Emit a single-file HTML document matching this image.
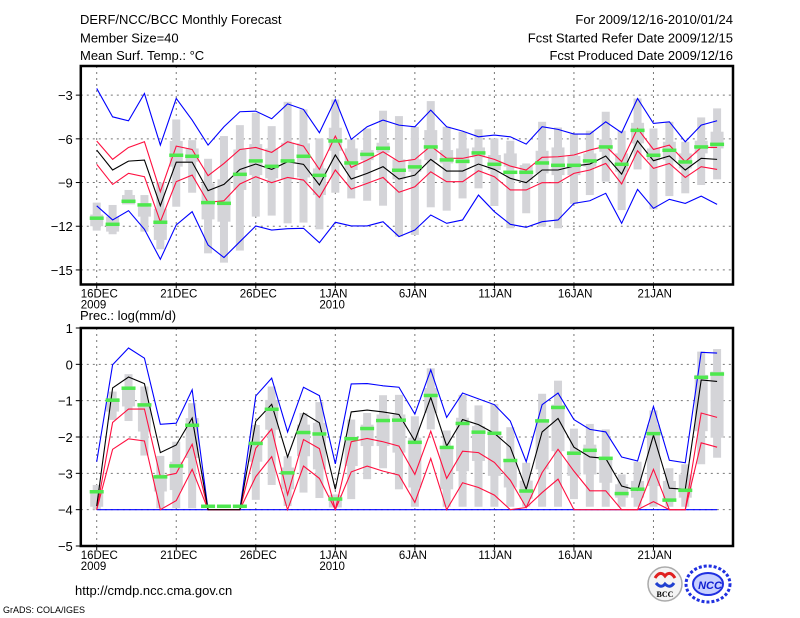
<!DOCTYPE html>
<html><head><meta charset="utf-8"><style>
html,body{margin:0;padding:0;background:#fff;width:800px;height:618px;overflow:hidden}
svg{display:block}
text{font-family:"Liberation Sans",sans-serif;fill:#000}
</style></head><body>
<svg id="c" width="800" height="618" viewBox="0 0 800 618" xmlns="http://www.w3.org/2000/svg">
<text x="80" y="24" font-size="13">DERF/NCC/BCC Monthly Forecast</text>
<text x="80" y="42.5" font-size="13">Member Size=40</text>
<text x="80" y="60" font-size="13">Mean Surf. Temp.: °C</text>
<text x="733" y="24" font-size="13" text-anchor="end">For 2009/12/16-2010/01/24</text>
<text x="733" y="42.5" font-size="13" text-anchor="end">Fcst Started Refer Date 2009/12/15</text>
<text x="733" y="60" font-size="13" text-anchor="end">Fcst Produced Date 2009/12/16</text>
<text x="80" y="320" font-size="13">Prec.: log(mm/d)</text>
<text x="75" y="595" font-size="13">http://cmdp.ncc.cma.gov.cn</text>
<text x="3" y="613" font-size="9">GrADS: COLA/IGES</text>
<g>
<circle cx="665" cy="584" r="17" fill="#f4f4f4" stroke="#aaa" stroke-width="1.5"/>
<path d="M655 578 q5 -8 10 -2 q5 -6 10 2" stroke="#e02020" stroke-width="3" fill="none"/>
<path d="M656 583 q5 6 9 1 q5 5 9 -1" stroke="#2040d0" stroke-width="3" fill="none"/>
<text x="665" y="597" font-size="8" font-weight="bold" text-anchor="middle" style="font-family:'Liberation Serif',serif">BCC</text>
</g>
<g>
<ellipse cx="708" cy="584" rx="22" ry="18" fill="none" stroke="#2030e0" stroke-width="3" stroke-dasharray="3 2"/>
<ellipse cx="708" cy="584" rx="15" ry="11" fill="#c8d0ff" stroke="#2030e0" stroke-width="2"/>
<text x="710" y="589" font-size="11" font-style="italic" font-weight="bold" text-anchor="middle" fill="#1020d0" style="fill:#1020d0">NCC</text>
</g>
</svg>
<script>
const xTickLabels = ["16DEC","21DEC","26DEC","1JAN","6JAN","11JAN","16JAN","21JAN"];
const xTickSub = ["2009","","","2010","","","",""];
const topYTicks = [-3,-6,-9,-12,-15];
const botYTicks = [1,0,-1,-2,-3,-4,-5];
const tBlueHi = [-2.54,-4.49,-4.76,-2.89,-6.43,-3.23,-4.71,-6.43,-5.17,-4.14,-4.1,-4.62,-3.6,-3.98,-5.58,-3.3,-6.04,-5.17,-4.71,-5.06,-5.17,-4.03,-5.17,-5.47,-5.86,-5.74,-5.86,-6.36,-5.17,-5.35,-5.67,-5.67,-4.83,-5.58,-3.23,-4.94,-4.83,-6.2,-5.06,-4.76];
const tRedHi = [-6.15,-7.41,-6.59,-6.2,-9.63,-6.5,-6.73,-8.53,-7.69,-6.73,-6.59,-6.93,-6.2,-6.5,-8.1,-5.81,-7.96,-7.46,-6.89,-7.57,-7.41,-6.5,-7.34,-7.34,-7.11,-7.41,-7.87,-8.14,-7.27,-7.23,-7.11,-6.77,-6.5,-7.57,-5.29,-6.73,-6.43,-7.57,-6.59,-6.59];
const tMean = [-6.77,-8.14,-7.53,-7.46,-10.59,-7.6,-7.6,-9.56,-9.13,-8.1,-7.73,-8.1,-7.57,-7.75,-9.17,-7.11,-8.76,-8.37,-7.91,-8.76,-8.49,-7.41,-8.21,-8.21,-7.73,-8.1,-8.71,-9.01,-8.14,-8.14,-7.87,-7.73,-7.18,-8.42,-6.13,-7.5,-7.18,-8.14,-7.34,-7.41];
const tRedLo = [-7.75,-9.13,-8.37,-8.6,-11.69,-8.94,-8.49,-10.36,-10.25,-9.1,-8.6,-9.01,-8.65,-8.83,-10.02,-8.14,-9.45,-9.06,-8.65,-9.67,-9.29,-8.26,-8.94,-8.94,-8.19,-8.6,-9.51,-9.51,-9.01,-9.01,-8.37,-8.14,-7.69,-9.1,-6.82,-8.03,-7.69,-8.65,-7.91,-8.1];
const tBlueLo = [-10.6,-11.57,-10.93,-12.21,-14.27,-11.91,-11.0,-13.29,-14.15,-13.06,-11.98,-12.26,-12.17,-12.14,-13.13,-11.73,-11.98,-11.98,-11.69,-12.71,-12.26,-11.23,-11.8,-11.57,-9.86,-11.0,-11.87,-12.07,-11.69,-11.57,-10.43,-10.25,-9.74,-11.8,-9.47,-10.77,-10.15,-10.43,-9.93,-10.5];
const tObs = [-11.43,-11.85,-10.27,-10.52,-11.71,-7.11,-7.18,-10.36,-10.41,-8.42,-7.5,-7.87,-7.5,-7.18,-8.49,-6.13,-7.64,-7.05,-6.63,-8.14,-7.91,-6.54,-7.43,-7.53,-6.95,-7.73,-8.28,-8.28,-7.64,-7.8,-7.8,-7.5,-6.54,-7.73,-5.4,-7.11,-6.77,-7.57,-6.54,-6.36];
const tMax = [-10.38,-10.54,-9.51,-9.86,-9.0,-4.67,-6.09,-7.37,-5.81,-5.06,-4.21,-5.13,-3.46,-3.98,-5.97,-3.3,-6.04,-5.29,-4.07,-4.44,-5.17,-3.41,-5.17,-5.51,-5.35,-5.97,-6.13,-7.69,-4.83,-5.22,-5.67,-5.44,-4.14,-5.44,-3.23,-5.29,-4.83,-6.2,-4.53,-3.91];
const tMin = [-12.3,-12.55,-10.47,-12.37,-13.58,-10.66,-9.7,-13.86,-14.5,-13.67,-11.34,-11.27,-11.8,-11.75,-12.21,-9.7,-10.09,-10.25,-10.59,-12.71,-12.6,-10.7,-10.93,-10.09,-9.4,-10.61,-12.14,-11.11,-12.03,-12.14,-10.47,-9.86,-8.94,-10.89,-8.1,-10.84,-9.93,-9.74,-9.17,-8.78];
const tQ3 = [-11.2,-11.34,-9.86,-10.66,-10.8,-6.15,-6.66,-9.06,-8.78,-6.73,-6.36,-6.66,-6.27,-6.31,-8.03,-5.24,-6.66,-6.77,-6.27,-7.41,-7.41,-5.4,-6.77,-6.66,-6.59,-7.11,-7.0,-7.8,-6.82,-6.59,-7.18,-7.0,-6.04,-7.0,-4.9,-6.66,-6.2,-7.0,-6.13,-5.51];
const tQ1 = [-12.0,-12.37,-10.5,-11.34,-12.94,-7.91,-7.57,-11.53,-11.69,-9.51,-8.49,-8.71,-8.78,-8.65,-9.86,-6.82,-8.14,-7.46,-6.95,-8.78,-8.26,-7.46,-7.69,-7.69,-7.27,-8.14,-7.91,-8.83,-8.37,-8.49,-8.49,-7.91,-6.89,-8.26,-6.31,-7.46,-7.46,-8.03,-7.0,-6.66];
const pBlueHi = [-2.68,-0.01,0.45,0.17,-1.65,-1.62,-0.7,-4,-4,-4,-0.87,-0.38,-1.86,-0.63,-0.86,-2.74,-0.54,-0.53,-0.59,-0.63,-1.37,-0.15,-1.46,-0.79,-0.95,-1.11,-1.56,-2.68,-1.11,-0.79,-1.52,-1.79,-1.86,-2.55,-2.66,-1.16,-2.64,-2.71,0.33,0.31];
const pMean = [-3.9,-0.65,-0.35,-0.53,-2.43,-2.22,-1.48,-4,-4,-4,-1.57,-1.1,-2.55,-1.34,-1.61,-3.44,-1.31,-1.26,-1.31,-1.38,-2.11,-0.91,-2.25,-1.52,-1.66,-1.9,-2.28,-3.44,-1.86,-1.49,-2.28,-2.55,-2.59,-3.35,-3.47,-1.95,-3.41,-3.44,-0.43,-0.47];
const pRedHi = [-4,-1.6,-1.23,-1.23,-3.09,-3.0,-2.2,-4,-4,-4,-2.31,-1.78,-3.59,-2.07,-2.32,-4,-2.13,-2.04,-2.13,-2.25,-3.03,-1.84,-3.14,-2.39,-2.43,-2.7,-3.19,-3.94,-2.98,-2.34,-2.94,-3.48,-3.48,-4,-4,-2.89,-4,-4,-1.34,-1.46];
const pRedLo = [-4,-2.34,-2.05,-2.11,-4,-3.75,-2.89,-4,-4,-4,-3.09,-2.54,-4,-2.8,-3.14,-4,-2.96,-2.8,-2.94,-3.05,-3.8,-2.59,-4,-3.26,-3.39,-3.6,-4,-3.94,-3.53,-3.16,-4,-4,-4,-4,-4,-3.78,-4,-4,-2.16,-2.28];
const pBlueLo = [-4,-4,-4,-4,-4,-4,-4,-4,-4,-4,-4,-4,-4,-4,-4,-4,-4,-4,-4,-4,-4,-4,-4,-4,-4,-4,-4,-4,-4,-4,-4,-4,-4,-4,-4,-4,-4,-4,-4,-4];
const pObs = [-3.5,-0.98,-0.65,-1.11,-3.09,-2.79,-1.67,-3.9,-3.9,-3.9,-2.17,-1.23,-2.98,-1.87,-1.91,-3.7,-2.04,-1.76,-1.54,-1.53,-2.14,-0.85,-2.28,-1.62,-1.86,-1.89,-2.64,-3.48,-1.55,-1.18,-2.44,-2.36,-2.58,-3.55,-3.43,-1.9,-3.73,-3.46,-0.35,-0.26];
const pMax = [-3.32,-0.75,-0.27,-0.61,-2.52,-2.13,-1.07,null,null,null,-1.67,-0.61,-2.53,-1.34,-1.04,-3.58,-1.52,-1.34,-0.85,-0.84,-1.43,-0.11,-1.82,-0.84,-1.13,-1.09,-1.73,-2.71,-0.81,-0.45,-1.77,-1.64,-1.79,-3.03,-2.68,-1.27,-2.86,-2.75,0.35,0.42];
const pMin = [-4,-1.53,-1.56,-2.51,-3.96,-3.96,-3.96,null,null,null,-3.73,-3.32,-3.9,-3.53,-3.68,-3.94,-3.71,-3.16,-2.86,-3.44,-3.92,-1.79,-3.92,-3.92,-3.92,-3.92,-3.92,-3.92,-3.92,-3.92,-3.71,-3.92,-3.92,-3.92,-3.92,-3.92,-3.92,-3.92,-2.75,-2.57];
const pQ3 = [-3.46,-0.93,-0.61,-1.07,-3.04,-2.68,-1.48,null,null,null,-2.13,-0.98,-2.84,-1.66,-1.61,-3.6,-2.02,-1.66,-1.38,-1.38,-2.02,-0.65,-2.3,-1.47,-1.7,-1.93,-2.62,-3.2,-1.57,-1.11,-2.39,-2.21,-2.57,-3.3,-3.21,-1.66,-3.21,-3.03,-0.29,-0.2];
const pQ1 = [-3.92,-1.3,-1.16,-1.85,-3.5,-3.46,-2.58,null,null,null,-2.68,-1.8,-3.44,-2.53,-2.89,-3.94,-2.8,-2.25,-2.25,-2.43,-3.39,-1.34,-3.44,-2.94,-2.66,-3.07,-3.39,-3.7,-2.89,-2.39,-3.07,-3.03,-3.26,-3.67,-3.67,-3.35,-3.76,-3.67,-1.84,-2.02];

const NS = "http://www.w3.org/2000/svg";
const svg = document.getElementById('c');
const X0 = 80.8, X1 = 733, D0 = -1, D1 = 40;
const xs = d => X0 + (d - D0) * (X1 - X0) / (D1 - D0);
function mk(tag, attrs, parent) {
  const e = document.createElementNS(NS, tag);
  for (const k in attrs) e.setAttribute(k, attrs[k]);
  (parent || svg).appendChild(e);
  return e;
}
function panel(cfg) {
  const g = mk('g', {});
  
  
  const ys = v => cfg.yTop + (cfg.vTop - v) * (cfg.yBot - cfg.yTop) / (cfg.vTop - cfg.vBot);
  cfg.grid.forEach(v => {
    const l = mk('line', {x1: X0, x2: X1, y1: ys(v), y2: ys(v), stroke: '#777', 'stroke-width': 1, 'stroke-dasharray': '2 4'}, g);
    
    
  });
  xTickLabels.forEach((lab, i) => {
    const x = xs(i * 5);
    const l = mk('line', {x1: x, x2: x, y1: cfg.yTop, y2: cfg.yBot, stroke: '#777', 'stroke-width': 1, 'stroke-dasharray': '2 4'}, g);
    
    
    const tk = mk('line', {x1: x, x2: x, y1: cfg.yBot, y2: cfg.yBot + 4, stroke: '#000', 'stroke-width': 1}, g);
    
    
    const t = mk('text', {x: x - 16, y: cfg.yBot + 13, 'font-size': 11.5}, g);
    t.textContent = lab;
    
    
    if (xTickSub[i]) {
      const t2 = mk('text', {x: x - 16, y: cfg.yBot + 24, 'font-size': 11.5}, g);
      t2.textContent = xTickSub[i];
      
      
    }
  });
  cfg.yTicks.forEach(v => {
    const tk = mk('line', {x1: X0 - 5, x2: X0, y1: ys(v), y2: ys(v), stroke: '#000'}, g);
    
    
    const t = mk('text', {x: X0 - 8, y: ys(v) + 5, 'font-size': 13, 'text-anchor': 'end'}, g);
    t.textContent = (v < 0 ? '\u2212' + (-v) : String(v));
    
    
  });
  for (let d = 0; d < cfg.max.length; d++) {
    if (cfg.max[d] === null) continue;
    const x = xs(d);
    const w = mk('rect', {x: x - 4, y: ys(cfg.max[d]), width: 8, height: Math.max(1, ys(cfg.min[d]) - ys(cfg.max[d])), fill: '#d4d4d8'}, g);
    
    
    const b = mk('rect', {x: x - 6.5, y: ys(cfg.q3[d]), width: 13, height: Math.max(1, ys(cfg.q1[d]) - ys(cfg.q3[d])), fill: '#d4d4d8'}, g);
    
    
  }
  const series = [[cfg.blueLo, '#0000ff', 'blue-low-line'], [cfg.blueHi, '#0000ff', 'blue-high-line'], [cfg.redLo, '#ff1040', 'red-low-line'], [cfg.redHi, '#ff1040', 'red-high-line'], [cfg.mean, '#000', 'ensemble-mean-line']];
  series.forEach(([arr, col, nm]) => {
    const p = mk('polyline', {points: arr.map((v, d) => xs(d) + ',' + ys(v)).join(' '), fill: 'none', stroke: col, 'stroke-width': 1.1}, g);
    
    
  });
  cfg.obs.forEach((v, d) => {
    const r = mk('rect', {x: xs(d) - 7, y: ys(v) - 1.5, width: 14, height: 3.5, fill: '#4ee84e'}, g);
    
    
  });
  const f = mk('rect', {x: X0, y: cfg.yTop, width: X1 - X0, height: cfg.yBot - cfg.yTop, fill: 'none', stroke: '#000', 'stroke-width': 2.5}, g);
  
  
}
panel({name: 'temperature-panel', yTop: 66, yBot: 284.5, vTop: -1, vBot: -16, grid: topYTicks, yTicks: topYTicks,
  blueHi: tBlueHi, redHi: tRedHi, mean: tMean, redLo: tRedLo, blueLo: tBlueLo, obs: tObs, max: tMax, min: tMin, q3: tQ3, q1: tQ1});
panel({name: 'precipitation-panel', yTop: 328, yBot: 546, vTop: 1, vBot: -5, grid: [0, -1, -2, -3, -4], yTicks: botYTicks,
  blueHi: pBlueHi, redHi: pRedHi, mean: pMean, redLo: pRedLo, blueLo: pBlueLo, obs: pObs, max: pMax, min: pMin, q3: pQ3, q1: pQ1});
</script>
</body></html>
